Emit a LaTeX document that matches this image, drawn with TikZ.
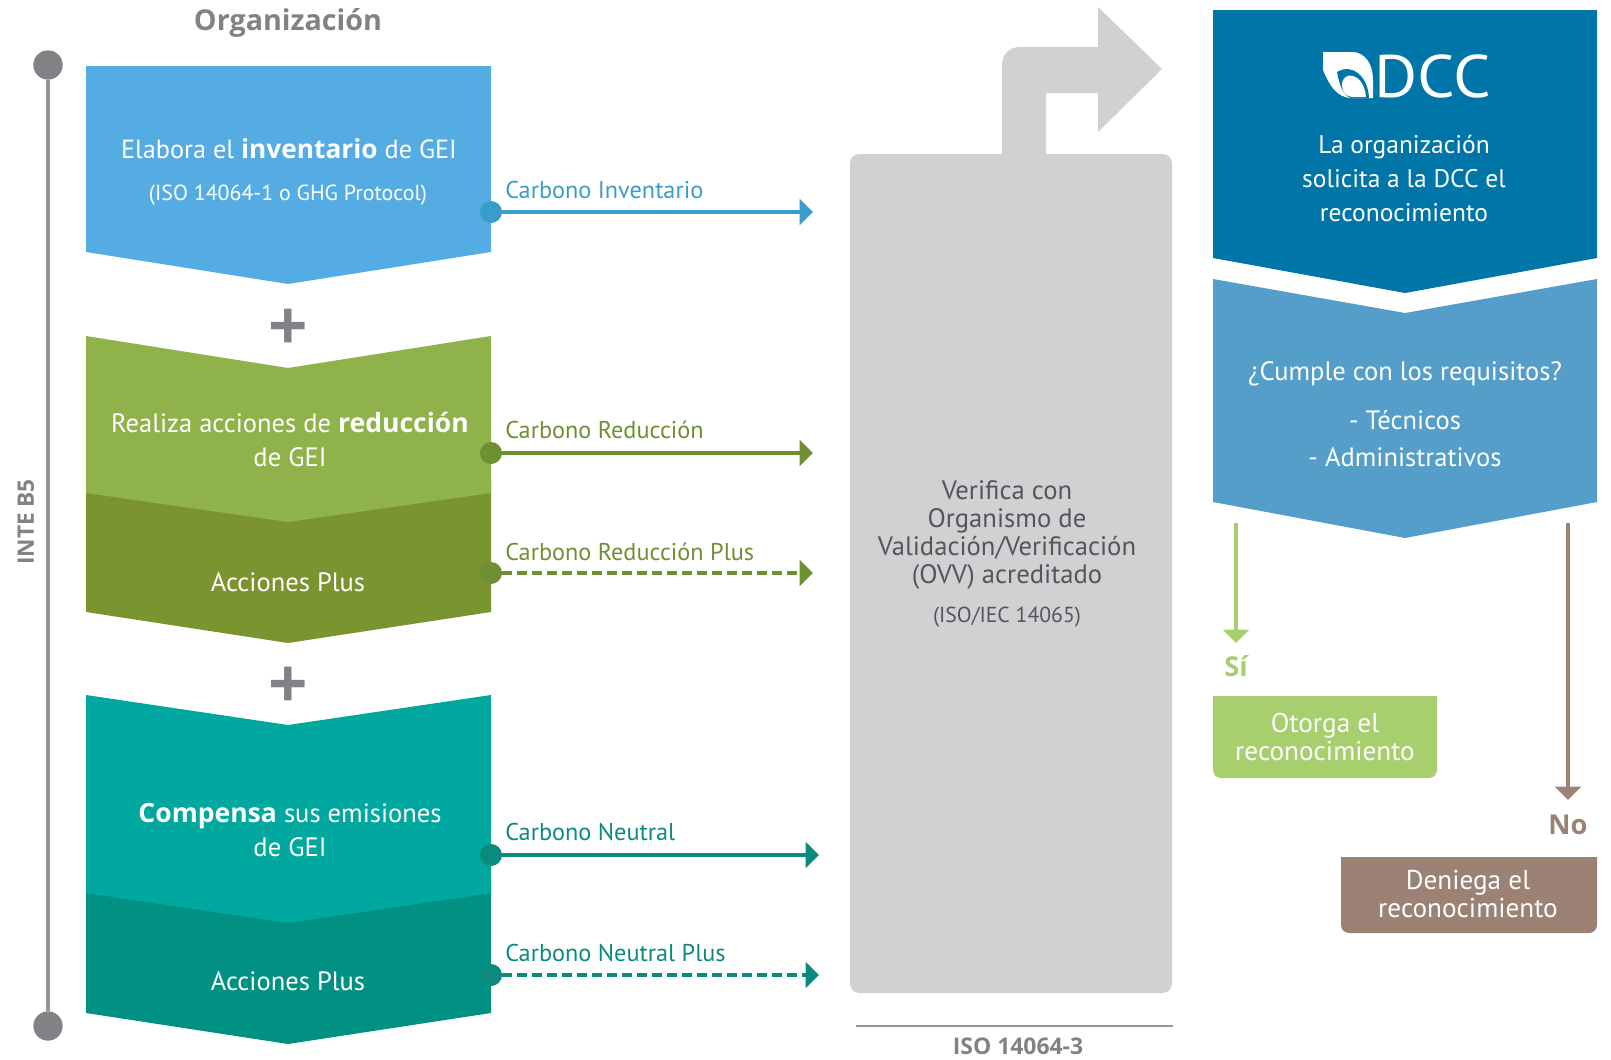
\documentclass[tikz,border=0pt]{standalone}
\usepackage{fontspec}
\setmainfont[BoldFont={Open Sans Bold}]{PT Sans}
\usepackage{xcolor}
\usetikzlibrary{arrows.meta}
\definecolor{invblue}{HTML}{55ACE2}
\definecolor{invline}{HTML}{3A9CC8}
\definecolor{redgreen}{HTML}{8FB24A}
\definecolor{plusgreen}{HTML}{7A9430}
\definecolor{redline}{HTML}{6F8F33}
\definecolor{comteal}{HTML}{00A89F}
\definecolor{plusteal}{HTML}{009183}
\definecolor{comline}{HTML}{0C8A7E}
\definecolor{dccblue}{HTML}{0075A8}
\definecolor{reqblue}{HTML}{559EC9}
\definecolor{okgreen}{HTML}{A7CF6E}
\definecolor{nobrown}{HTML}{9B8275}
\definecolor{ovvgray}{HTML}{CFD1D3}
\definecolor{txtgray}{HTML}{808285}
\definecolor{ovvtext}{HTML}{55565A}
\tikzstyle{boxtext} = [text=white, align=center, inner sep=0pt,
font=\fontsize{19.9}{25.5}\selectfont]
\tikzstyle{smalltext} = [boxtext, font=\fontsize{16.4}{20}\selectfont]
\tikzstyle{grouptitle} = [text=txtgray, inner sep=0pt, font=\bfseries\fontsize{21.5}{26}\selectfont]
\tikzstyle{plusmark} = [text=txtgray, inner sep=0pt, font=\bfseries\fontsize{52}{52}\selectfont]
\tikzstyle{carbontext} = [anchor=west, inner sep=0pt, font=\fontsize{18.2}{22}\selectfont]
\tikzstyle{startdot} = [circle, inner sep=0pt, minimum size=16.5pt]
\tikzstyle{carbonline} = [line width=3.7pt, -{Triangle[length=10pt,width=19pt]}]
\tikzstyle{carbonplus} = [carbonline, dash pattern=on 7.5pt off 3.75pt]
\tikzstyle{answerline} = [line width=3.2pt, -{Triangle[length=10pt,width=19pt]}]

\begin{document}
\begin{tikzpicture}[x=0.75pt, y=-0.75pt]
        \useasboundingbox (0,0) rectangle (1611,1060);
        % timeline
        \node[circle, fill=txtgray, inner sep=0pt, minimum size=22pt] (top) at (48,65) {};
        \node[circle, fill=txtgray, inner sep=0pt, minimum size=22pt] (bottom) at (48,1026) {};
        \draw[line width=3pt, color=txtgray!85] (top) -- (bottom);
        \node[grouptitle, rotate=90, font=\bfseries\fontsize{17}{20}\selectfont] (inte) at (26,522) {INTE B5};
        \node[grouptitle] (org) at (288,23) {Organización};
        % inventario
        \fill[invblue] (86,66) -- (491,66) -- (491,252) -- (288,284) -- (86,252) -- cycle;
        \node[boxtext, font=\fontsize{19.7}{25.5}\selectfont] (inv) at (289,149) {Elabora el \textbf{inventario} de GEI};
        \node[smalltext] (invsub) at (288,195) {(ISO 14064-1 o GHG Protocol)};
        \node[plusmark] (plusa) at (288,330) {+};
        % reduccion
        \fill[plusgreen] (86,480) -- (491,480) -- (491,612) -- (288,643) -- (86,612) -- cycle;
        \fill[redgreen] (86,336) -- (288,368) -- (491,336) -- (491,493) -- (288,522) -- (86,493) -- cycle;
        \node[boxtext] (red) at (290,439) {Realiza acciones de \textbf{reducción}\\de GEI};
        \node[boxtext] (redplus) at (288,582) {Acciones Plus};
        \node[plusmark] (plusb) at (288,688) {+};
        % compensa
        \fill[plusteal] (86,880) -- (491,880) -- (491,1013) -- (288,1044) -- (86,1013) -- cycle;
        \fill[comteal] (86,695) -- (288,725) -- (491,695) -- (491,893) -- (288,923) -- (86,893) -- cycle;
        \node[boxtext] (com) at (290,830) {\textbf{Compensa} sus emisiones\\de GEI};
        \node[boxtext] (complus) at (288,981) {Acciones Plus};
        % connectors
        \node[startdot, fill=invline] (dotinv) at (491,212) {};
        \node[startdot, fill=redline] (dotred) at (491,453) {};
        \node[startdot, fill=redline] (dotredp) at (491,573) {};
        \node[startdot, fill=comline] (dotcom) at (491,855) {};
        \node[startdot, fill=comline] (dotcomp) at (491,975) {};
        \coordinate (endinv) at (813,212);
        \coordinate (endred) at (813,453);
        \coordinate (endredp) at (813,573);
        \coordinate (endcom) at (819,855);
        \coordinate (endcomp) at (819,975);
        \draw[carbonline, invline] (dotinv) -- (endinv);
        \draw[carbonline, redline] (dotred) -- (endred);
        \draw[carbonplus, redline] (dotredp) -- (endredp);
        \draw[carbonline, comline] (dotcom) -- (endcom);
        \draw[carbonplus, comline] (dotcomp) -- (endcomp);
        \node[carbontext, text=invline] (lblinv) at (505,190) {Carbono Inventario};
        \node[carbontext, text=redline] (lblred) at (505,430) {Carbono Reducción};
        \node[carbontext, text=redline] (lblredp) at (505,552) {Carbono Reducción Plus};
        \node[carbontext, text=comline] (lblcom) at (505,832) {Carbono Neutral};
        \node[carbontext, text=comline] (lblcomp) at (505,953) {Carbono Neutral Plus};
        % verificacion
        \fill[ovvgray, rounded corners=7pt] (850,154) rectangle (1172,993);
        \fill[ovvgray] (1002,160) [rounded corners=13pt] -- (1002,47) [sharp corners] -- (1098,47) -- (1098,7) -- (1162,69)
            -- (1098,132) -- (1098,93) -- (1046,93) -- (1046,160) -- cycle;
        \node[boxtext, text=ovvtext, font=\fontsize{20}{21.2}\selectfont] (ovv) at (1007,535) {Verifica con\\Organismo de\\Validación/Verificación\\(OVV) acreditado};
        \node[smalltext, text=ovvtext, font=\fontsize{16.3}{20}\selectfont] (ovvsub) at (1007,617) {(ISO/IEC 14065)};
        \coordinate (isoa) at (856,1026);
        \coordinate (isob) at (1173,1026);
        \draw[line width=1.8pt, color=txtgray!85] (isoa) -- (isob);
        \node[grouptitle, font=\bfseries\fontsize{17.2}{20}\selectfont] (iso) at (1018,1046) {ISO 14064-3};
        % dcc
        \fill[dccblue] (1213,10) -- (1597,10) -- (1597,258) -- (1405,293) -- (1213,258) -- cycle;
        \fill[white] (1323,52) -- (1352,52) .. controls (1365,52) and (1373,64) .. (1373,80) -- (1373,98) -- (1352,98)
            .. controls (1336,98) and (1329,84) .. (1323,70) -- cycle;
        \fill[dccblue] (1337,72) .. controls (1352,63) and (1368,76) .. (1369,98) -- (1352,98)
            .. controls (1344,98) and (1339,84) .. (1337,72) -- cycle;
        \fill[white] (1342,85) .. controls (1342,70) and (1364,72) .. (1366,97) -- (1353,97) .. controls (1346,97) and (1342,92) .. (1342,85) -- cycle;
        \node[text=white, inner sep=0pt, anchor=west, xscale=1.1, font=\fontsize{45}{45}\selectfont] (dcc) at (1374,76) {DCC};
        \node[boxtext, font=\fontsize{19.1}{25.5}\selectfont] (ask) at (1404,178) {La organización\\solicita a la DCC el\\reconocimiento};
        % requisitos
        \fill[reqblue] (1213,279) -- (1405,313) -- (1597,279) -- (1597,502) -- (1405,538) -- (1213,502) -- cycle;
        \node[boxtext] (req) at (1405,374) {¿Cumple con los requisitos?};
        \node[boxtext, font=\fontsize{19.9}{27.7}\selectfont] (reqb) at (1405,439) {- Técnicos\\- Administrativos};
        % answers
        \coordinate (yesa) at (1236,523);
        \coordinate (yesb) at (1236,643);
        \coordinate (noa) at (1568,523);
        \coordinate (nob) at (1568,800);
        \draw[answerline, okgreen] (yesa) -- (yesb);
        \draw[answerline, nobrown] (noa) -- (nob);
        \node[grouptitle, text=okgreen, font=\bfseries\fontsize{20.5}{24}\selectfont] (yes) at (1236,666) {Sí};
        \node[grouptitle, text=nobrown, font=\bfseries\fontsize{20.5}{24}\selectfont] (no) at (1568,825) {No};
        \fill[okgreen] (1213,696) -- (1437,696) [rounded corners=6pt] -- (1437,778) -- (1213,778) [sharp corners] -- cycle;
        \fill[nobrown] (1341,857) -- (1597,857) [rounded corners=6pt] -- (1597,933) -- (1341,933) [sharp corners] -- cycle;
        \node[boxtext, font=\fontsize{20.4}{21}\selectfont] (grant) at (1325,737) {Otorga el\\reconocimiento};
        \node[boxtext, font=\fontsize{20.4}{21}\selectfont] (deny) at (1468,894) {Deniega el\\reconocimiento};
    \end{tikzpicture}
\end{document}
